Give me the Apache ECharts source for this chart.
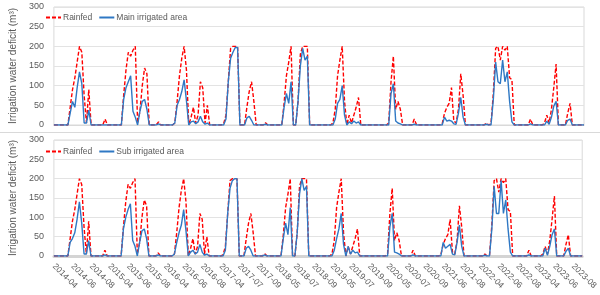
<!DOCTYPE html>
<html>
<head>
<meta charset="utf-8">
<script src="https://cdn.jsdelivr.net/npm/echarts@6/dist/echarts.min.js"></script>
<style>
  html, body { margin: 0; padding: 0; background: #fff; }
  #chart { width: 600px; height: 295px; }
</style>
</head>
<body>
<div id="chart"></div>
<script>
// x tick labels, one every `perTick` data points
const tickLabels = [
  "2014-04", "2014-06", "2014-08", "2015-04", "2015-06", "2015-08",
  "2016-04", "2016-06", "2016-08", "2017-04", "2017-07", "2017-09",
  "2018-05", "2018-07", "2018-09", "2019-05", "2019-07", "2019-09",
  "2020-05", "2020-07", "2020-09", "2021-06", "2021-08", "2022-04",
  "2022-06", "2022-08", "2023-04", "2023-06", "2023-08"
];
const perTick = 8;

// irrigation water deficit (m3), one row per season
const rainfed = [
  0,0,0,0,0,0,0,45,90,120,160,200,185,75,5,90,0,0,0,0,0,0,15,0,
  0,0,0,0,0,0,75,140,185,175,190,200,5,35,100,145,130,0,0,0,0,8,0,0,
  0,0,0,0,5,60,125,170,200,140,0,20,45,5,25,110,95,5,50,0,0,0,0,0,
  0,3,25,110,195,200,200,200,0,0,0,45,85,110,60,0,0,0,0,6,0,0,0,0,
  0,0,0,55,125,160,200,0,0,60,180,200,200,200,0,0,0,0,0,0,0,0,0,0,
  5,40,125,165,200,60,0,25,5,25,45,70,0,0,0,0,0,0,0,0,0,0,0,0,
  5,110,175,40,60,40,0,0,0,0,0,15,0,0,0,0,0,0,0,0,0,0,0,3,
  30,45,55,95,10,5,40,130,75,0,0,0,0,0,0,0,
  0,0,5,0,3,80,195,200,165,200,190,200,120,115,0,0,0,0,0,0,0,15,0,0,
  0,0,0,5,25,5,40,95,155,0,0,0,0,30,55,0,0,0,0,0,0
];
const mainIrrigated = [
  0,0,0,0,0,0,0,30,60,45,95,135,105,5,5,38,0,0,0,0,0,0,0,0,
  0,0,0,0,0,0,65,95,110,125,35,20,0,35,60,65,40,0,0,0,0,3,0,0,
  0,0,0,0,5,50,65,85,115,62,0,8,10,3,8,22,8,2,5,0,0,0,0,0,
  0,0,15,110,170,185,197,197,0,0,0,18,22,12,0,0,0,0,0,2,0,0,0,0,
  0,0,0,45,80,55,110,0,0,60,150,195,165,175,0,0,0,0,0,0,0,0,0,0,
  0,15,55,65,100,25,0,8,3,10,5,8,0,0,0,0,0,0,0,0,0,0,0,0,
  0,80,105,10,5,3,0,0,0,0,0,2,0,0,0,0,0,0,0,0,0,0,0,0,
  20,10,12,10,3,2,30,70,20,0,0,0,0,0,0,0,
  0,0,2,0,0,65,160,110,105,165,110,135,60,8,0,0,0,0,0,0,0,3,0,0,
  0,0,0,0,10,2,20,48,60,0,0,0,0,12,15,0,0,0,0,0,0
];
const subIrrigated = [
  0,0,0,0,0,0,0,35,45,60,95,140,85,5,5,40,0,0,0,0,0,0,3,0,
  0,0,0,0,0,0,70,100,120,135,40,25,0,35,65,70,45,0,0,0,0,3,0,0,
  0,0,0,0,5,35,60,80,120,65,0,10,15,5,10,30,10,2,5,0,0,0,0,0,
  0,0,15,110,175,195,200,200,0,0,0,20,25,15,0,0,0,0,0,3,0,0,0,0,
  0,0,0,45,85,55,125,0,0,60,160,200,170,180,0,0,0,0,0,0,0,0,0,0,
  0,15,45,70,110,30,0,25,5,15,8,10,0,0,0,0,0,0,0,0,0,0,0,0,
  0,75,110,10,8,5,0,0,0,0,0,3,0,0,0,0,0,0,0,0,0,0,0,0,
  35,20,25,30,5,3,35,80,25,0,0,0,0,0,0,0,
  0,0,2,0,0,70,180,110,110,195,110,145,70,10,0,0,0,0,0,0,0,3,0,0,
  0,0,0,0,20,2,25,55,70,0,0,0,0,12,20,0,0,0,0,0,0
];

const categories = rainfed.map((_, i) => String(i));

const FONT = "Liberation Sans";
const TEXT = "#595959";
const RED = "#ff0000";
const BLUE = "#2f78c4";

function yAxisFor(gridIndex) {
  return {
    gridIndex,
    type: "value",
    min: 0,
    max: 300,
    interval: 50,
    name: "Irrigation water deficit (m³)",
    nameLocation: "middle",
    nameGap: 27,
    nameTextStyle: { color: TEXT, fontSize: 10, fontFamily: FONT },
    axisLabel: { color: TEXT, fontSize: 9, fontFamily: FONT, margin: 10 },
    axisLine: { show: false },
    axisTick: { show: false },
    splitLine: { lineStyle: { color: "#e3e3e3", width: 1 } },
  };
}

function legendFor(top, names) {
  return {
    top,
    left: 40,
    data: names,
    itemWidth: 15,
    itemHeight: 8,
    itemGap: 6,
    itemStyle: { opacity: 0 }, // hide the symbol dot, keep the line
    textStyle: { color: TEXT, fontSize: 8.5, fontFamily: FONT, padding: [0, 0, 0, -3] },
  };
}

const rainLine = { color: RED, width: 1.4, type: [4, 2] };
const blueLine = { color: BLUE, width: 1.4 };

const chart = echarts.init(document.getElementById("chart"));
chart.setOption({
  animation: false,
  backgroundColor: "#fff",
  grid: [
    { left: 37, right: 16, top: 7, height: 118, show: true, borderColor: "#d9d9d9", borderWidth: 1 },
    { left: 37, right: 16, top: 140, height: 116, show: true, borderColor: "#d9d9d9", borderWidth: 1 },
  ],
  legend: [
    legendFor(8, ["Rainfed", "Main irrigated area"]),
    legendFor(142, ["Rainfed", "Sub irrigated area"]),
  ],
  graphic: [
    {
      type: "line",
      shape: { x1: 0, y1: 132.5, x2: 600, y2: 132.5 },
      style: { stroke: "#d9d9d9", lineWidth: 1 },
    },
  ],
  xAxis: [
    {
      gridIndex: 0,
      type: "category",
      data: categories,
      boundaryGap: false,
      axisLine: { lineStyle: { color: "#d9d9d9" } },
      axisTick: { show: false },
      axisLabel: { show: false },
      splitLine: { show: false },
    },
    {
      gridIndex: 1,
      type: "category",
      data: categories,
      boundaryGap: false,
      axisLine: { lineStyle: { color: "#d4d4d4", width: 3 } },
      axisTick: { show: false },
      axisLabel: {
        color: TEXT,
        fontSize: 8.5,
        fontFamily: FONT,
        rotate: -45,
        margin: 9,
        interval: (i) => i % perTick === 0,
        formatter: (v, i) => tickLabels[i / perTick] || "",
      },
      splitLine: { show: false },
    },
  ],
  yAxis: [yAxisFor(0), yAxisFor(1)],
  series: [
    {
      name: "Rainfed", type: "line", xAxisIndex: 0, yAxisIndex: 0,
      data: rainfed, symbol: "none", lineStyle: rainLine, itemStyle: { color: RED },
    },
    {
      name: "Main irrigated area", type: "line", xAxisIndex: 0, yAxisIndex: 0,
      data: mainIrrigated, symbol: "none", lineStyle: blueLine, itemStyle: { color: BLUE },
    },
    {
      name: "Rainfed", type: "line", xAxisIndex: 1, yAxisIndex: 1,
      data: rainfed, symbol: "none", lineStyle: rainLine, itemStyle: { color: RED },
    },
    {
      name: "Sub irrigated area", type: "line", xAxisIndex: 1, yAxisIndex: 1,
      data: subIrrigated, symbol: "none", lineStyle: blueLine, itemStyle: { color: BLUE },
    },
  ],
});
</script>
</body>
</html>
